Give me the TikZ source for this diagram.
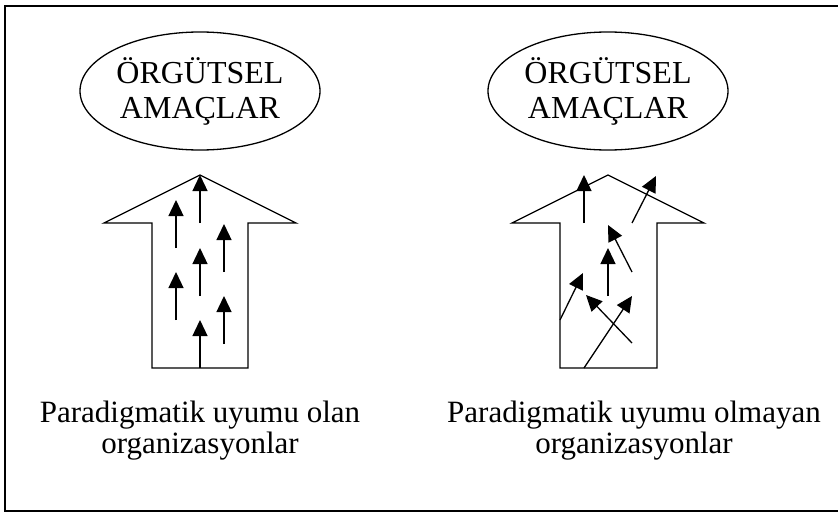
\documentclass[tikz,border=0pt]{standalone}
\usepackage{fontspec}
\setmainfont{Liberation Serif}
\usetikzlibrary{shapes.geometric, arrows.meta}
\tikzstyle{goal} = [draw, ellipse, line width=1.3pt, minimum width=240pt, minimum height=118pt, inner sep=0pt, align=center, font=\fontsize{32}{35}\selectfont]
\tikzstyle{bigarrow} = [line width=1.3pt, line join=miter]
\tikzstyle{smallarrow} = [line width=1.3pt, -{Triangle[length=16pt,width=15pt]}]
\tikzstyle{caption} = [align=center, font=\fontsize{31}{31}\selectfont]

\begin{document}
\begin{tikzpicture}[x=1pt, y=-1pt]
\useasboundingbox (0,0) rectangle (838,514);
% frame
\draw[line width=1.5pt] (838,6) -- (5,6) -- (5,511) -- (838,511);

% goals
\node[goal] (goalA) at (200,91) {ÖRGÜTSEL\\AMAÇLAR};
\node[goal] (goalB) at (608,91) {ÖRGÜTSEL\\AMAÇLAR};

% big arrows
\draw[bigarrow] (152,368) -- (152,223) -- (104,223) -- (200,175) -- (296,223) -- (248,223) -- (248,368) -- cycle;
\draw[bigarrow] (560,368) -- (560,223) -- (512,223) -- (608,175) -- (704,223) -- (657,223) -- (657,368) -- cycle;

% aligned members
\draw[smallarrow] (200,368) -- (200,320);
\draw[smallarrow] (200,296) -- (200,248);
\draw[smallarrow] (200,223) -- (200,175);
\draw[smallarrow] (176,320) -- (176,272);
\draw[smallarrow] (176,248) -- (176,200);
\draw[smallarrow] (224,344) -- (224,296);
\draw[smallarrow] (224,272) -- (224,224);

% scattered members
\draw[smallarrow] (584,223) -- (584,175);
\draw[smallarrow] (632,223) -- (656,176);
\draw[smallarrow] (632,272) -- (608,225);
\draw[smallarrow] (608,296) -- (608,248);
\draw[smallarrow] (560,320) -- (583,273);
\draw[smallarrow] (632,343) -- (586,295);
\draw[smallarrow] (584,368) -- (632,296);

% captions
\node[caption] (capA) at (200,431) {Paradigmatik uyumu olan\\organizasyonlar};
\node[caption] (capB) at (634,431) {Paradigmatik uyumu olmayan\\organizasyonlar};
\end{tikzpicture}
\end{document}
